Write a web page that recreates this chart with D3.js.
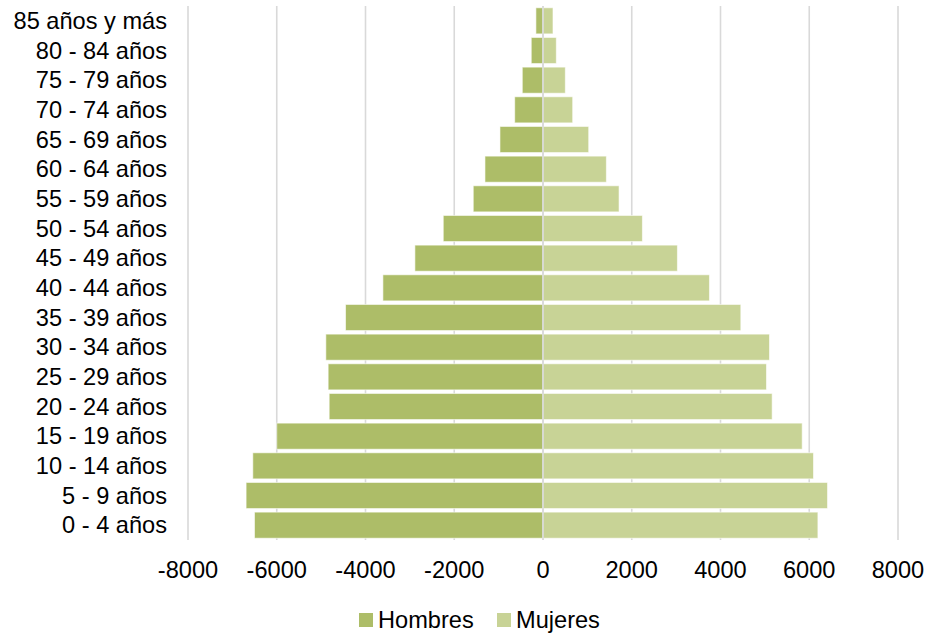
<!DOCTYPE html>
<html>
<head>
<meta charset="utf-8">
<script src="https://cdn.jsdelivr.net/npm/d3@7"></script>
<style>
  body { margin: 0; background: #fff; }
  text { font-family: "Liberation Sans", Arial, sans-serif; fill: #000; }
</style>
</head>
<body>
<div id="chart"></div>
<script>
// age groups, top to bottom
var grupos = ["85 años y más", "80 - 84 años", "75 - 79 años", "70 - 74 años", "65 - 69 años",
  "60 - 64 años", "55 - 59 años", "50 - 54 años", "45 - 49 años", "40 - 44 años",
  "35 - 39 años", "30 - 34 años", "25 - 29 años", "20 - 24 años", "15 - 19 años",
  "10 - 14 años", "5 - 9 años", "0 - 4 años"]

// men are negative so they go to the left
var hombres = [-160, -265, -467, -638, -970, -1308, -1572, -2248, -2887, -3608,
  -4450, -4894, -4842, -4819, -6000, -6540, -6691, -6502]
var mujeres = [225, 300, 503, 669, 1030, 1428, 1714, 2240, 3029, 3751,
  4458, 5104, 5036, 5164, 5841, 6096, 6412, 6195]

var ticks = [-8000, -6000, -4000, -2000, 0, 2000, 4000, 6000, 8000]
var series = ["Hombres", "Mujeres"]
var colores = ["#adbd68", "#c8d396"]

var width = 926, height = 633
var margin = { top: 6, right: 28, bottom: 93, left: 188 }
var fontSize = "23.6px"

var svg = d3.select("#chart")
  .append("svg")
  .attr("width", width)
  .attr("height", height)

var x = d3.scaleLinear()
  .domain([-8000, 8000])
  .range([margin.left, width - margin.right])

var y = d3.scaleBand()
  .domain(grupos)
  .range([margin.top, height - margin.bottom])
  .paddingInner(0.12)
  .paddingOuter(0.06)

// vertical gridlines
svg.append("g")
  .selectAll("line")
  .data(ticks)
  .enter()
  .append("line")
  .attr("x1", d => x(d))
  .attr("x2", d => x(d))
  .attr("y1", margin.top)
  .attr("y2", height - margin.bottom)
  .attr("stroke", "#d9d9d9")
  .attr("stroke-width", 1.6)

// bars
var bars = svg.append("g")
bars.selectAll(".h")
  .data(hombres)
  .enter()
  .append("rect")
  .attr("x", d => x(d))
  .attr("width", d => x(0) - x(d))
  .attr("y", (d, i) => y(grupos[i]))
  .attr("height", y.bandwidth())
  .attr("fill", colores[0])
  .attr("stroke", "#ffffff")
  .attr("stroke-opacity", 0.6)
  .attr("stroke-width", 1)

bars.selectAll(".m")
  .data(mujeres)
  .enter()
  .append("rect")
  .attr("x", x(0))
  .attr("width", d => x(d) - x(0))
  .attr("y", (d, i) => y(grupos[i]))
  .attr("height", y.bandwidth())
  .attr("fill", colores[1])
  .attr("stroke", "#ffffff")
  .attr("stroke-opacity", 0.6)
  .attr("stroke-width", 1)

// zero axis line drawn over the bars
svg.append("line")
  .attr("x1", x(0))
  .attr("x2", x(0))
  .attr("y1", margin.top)
  .attr("y2", height - margin.bottom)
  .attr("stroke", "#d9d9d9")
  .attr("stroke-width", 1.6)

// category labels
svg.append("g")
  .selectAll("text")
  .data(grupos)
  .enter()
  .append("text")
  .attr("x", margin.left - 21)
  .attr("y", d => y(d) + y.bandwidth() / 2)
  .attr("dy", "0.35em")
  .attr("text-anchor", "end")
  .style("font-size", fontSize)
  .text(d => d)

// x tick labels
svg.append("g")
  .selectAll("text")
  .data(ticks)
  .enter()
  .append("text")
  .attr("x", d => x(d))
  .attr("y", 578)
  .attr("text-anchor", "middle")
  .style("font-size", fontSize)
  .text(d => d)

// legend
var legendX = [359, 497]
var legend = svg.append("g")
  .selectAll("g")
  .data(series)
  .enter()
  .append("g")
  .attr("transform", (d, i) => "translate(" + legendX[i] + ",0)")

legend.append("rect")
  .attr("x", 0)
  .attr("y", 613)
  .attr("width", 14)
  .attr("height", 14)
  .attr("fill", (d, i) => colores[i])

legend.append("text")
  .attr("x", 19)
  .attr("y", 628)
  .style("font-size", fontSize)
  .text(d => d)
</script>
</body>
</html>
